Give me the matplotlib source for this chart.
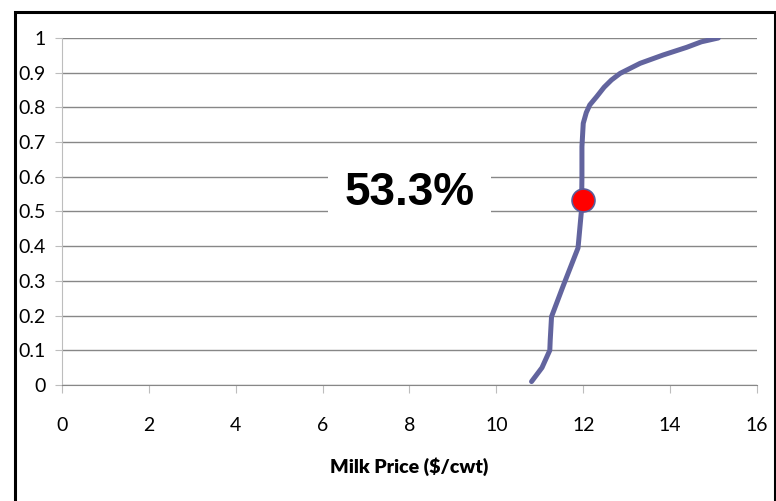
import numpy as np
import matplotlib.pyplot as plt
from matplotlib.patches import Rectangle

# Cumulative probability curve
price = [10.81, 11.05, 11.23, 11.24, 11.27, 11.53, 11.88, 11.96, 11.97, 11.97,
         12.0, 12.07, 12.15, 12.31, 12.48, 12.65, 12.85, 13.31, 13.84, 14.38,
         14.72, 15.11]
prob = [0.01, 0.05, 0.10, 0.13, 0.197, 0.283, 0.395, 0.504, 0.60, 0.687,
        0.754, 0.785, 0.807, 0.831, 0.858, 0.879, 0.898, 0.927, 0.951, 0.973,
        0.989, 1.0]

point_x = 12.0
point_y = 0.533
label = "53.3%"

xticks = np.arange(0, 17, 2)
yticks = [0, 0.1, 0.2, 0.3, 0.4, 0.5, 0.6, 0.7, 0.8, 0.9, 1]
yticklabels = ["0", "0.1", "0.2", "0.3", "0.4", "0.5", "0.6", "0.7", "0.8", "0.9", "1"]

plt.rcParams['font.family'] = ['Lato', 'DejaVu Sans']

fig = plt.figure(figsize=(7.76, 5.01), dpi=100)
ax = fig.add_axes([0.0799, 0.2315, 0.8956, 0.6927])

# outer frame
fig.patches.append(Rectangle((15 / 776, -0.05), (775 - 15) / 776, 1 - 12 / 501 + 0.05,
                             transform=fig.transFigure, fill=False,
                             edgecolor='black', linewidth=2.2))

ax.plot(price, prob, color='#62649e', linewidth=3.6, solid_capstyle='round',
        solid_joinstyle='round', zorder=3)
ax.plot([point_x], [point_y], marker='o', markersize=16.5, color='red',
        markeredgecolor='#5a5c9a', markeredgewidth=1.2, zorder=4)

ax.text(8.01, 0.552, label, fontsize=33, fontweight='bold', family='Liberation Sans',
        ha='center', va='center', zorder=5,
        bbox=dict(facecolor='white', edgecolor='none', pad=12))

ax.set_xlim(0, 16)
ax.set_ylim(0, 1)
ax.set_xticks(xticks)
ax.set_yticks(yticks)
ax.set_yticklabels(yticklabels)
ax.grid(axis='y', color='#878787', linewidth=1)
ax.set_axisbelow(True)

for s in ['top', 'right']:
    ax.spines[s].set_visible(False)
ax.spines['left'].set_color('#bdbdbd')
ax.spines['bottom'].set_color('#878787')
ax.tick_params(axis='y', length=5, color='#bdbdbd', pad=7, labelsize=14)
ax.tick_params(axis='x', length=6, color='#bdbdbd', pad=17, labelsize=14)

ax.set_xlabel("Milk Price ($/cwt)", fontsize=14, fontweight='heavy', labelpad=17)

fig.savefig("out.png", dpi=100)
